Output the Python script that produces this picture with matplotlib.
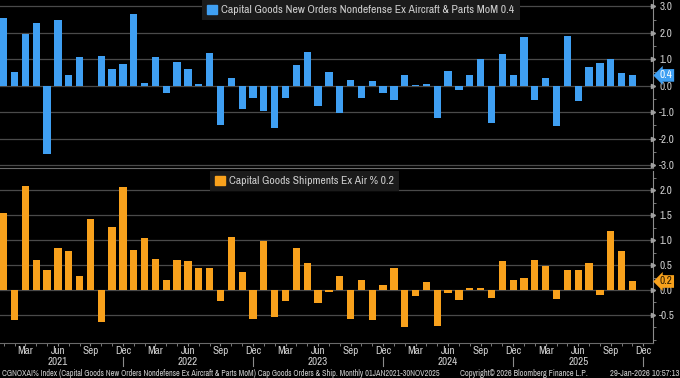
import numpy as np
import pandas as pd
import matplotlib
matplotlib.use('Agg')
import matplotlib.pyplot as plt
from matplotlib import font_manager
from matplotlib.patches import Patch
from matplotlib.lines import Line2D
from matplotlib.ticker import FormatStrFormatter
from matplotlib.transforms import blended_transform_factory as blend

# prefer a narrow face (Bloomberg terminal look), fall back to Liberation Sans
names = sorted({f.name for f in font_manager.fontManager.ttflist})
narrow = [n for n in names if 'Narrow' in n or 'Condensed' in n]
FONT = narrow[0] if narrow else 'Liberation Sans'
plt.rcParams['font.family'] = [FONT, 'DejaVu Sans']
plt.rcParams['axes.unicode_minus'] = False

# monthly data, Jan 2021 .. Nov 2025
orders = [2.55, 0.53, 1.95, 2.36, -2.59, 2.50, 0.40, 1.07, 0.00, 1.12, 0.63, 0.83,
          2.72, 0.09, 1.10, -0.26, 0.91, 0.63, 0.06, 1.25, -1.50, 0.28, -0.87, -0.48,
          -0.95, -1.60, -0.45, 0.77, 1.27, -0.78, 0.50, -1.02, 0.20, -0.48, 0.18, -0.29,
          -0.54, 0.42, 0.02, 0.05, -1.22, 0.55, -0.16, 0.40, 1.00, -1.42, 1.19, 0.39,
          1.84, -0.54, 0.28, -1.53, 1.89, -0.57, 0.72, 0.87, 1.01, 0.48, 0.39]
shipments = [1.54, -0.60, 2.09, 0.60, 0.40, 0.85, 0.78, 0.29, 1.43, -0.64, 1.26, 2.06,
             0.81, 1.04, 0.63, 0.19, 0.61, 0.58, 0.44, 0.44, -0.23, 1.07, 0.36, -0.58,
             0.99, -0.54, -0.23, 0.85, 0.54, -0.26, -0.04, 0.28, -0.58, 0.20, -0.60, 0.09,
             0.44, -0.74, -0.12, 0.15, -0.72, -0.07, -0.20, 0.03, 0.03, -0.17, 0.59, 0.19,
             0.25, 0.61, 0.48, -0.19, 0.41, 0.40, 0.55, -0.10, 1.19, 0.79, 0.17]
axis_months = pd.date_range('2021-01-01', '2025-12-01', freq='MS')
orders_label = 'Capital Goods New Orders Nondefense Ex Aircraft & Parts MoM 0.4'
ship_label = 'Capital Goods Shipments Ex Air % 0.2'
footer_left = ('CGNOXAI% Index (Capital Goods New Orders Nondefense Ex Aircraft & Parts MoM) '
               'Cap Goods Orders & Ship. Monthly 01JAN2021-30NOV2025')
footer_mid = 'Copyright\u00a9 2026 Bloomberg Finance L.P.'
footer_right = '29-Jan-2026 10:57:13'

BLUE = '#3f9ff2'
ORANGE = '#f8a11c'
GRID = '#4a4a4a'
TXT = '#cfcfcf'
AXC = '#8c8c8c'

x = np.arange(len(orders))
W, H = 680, 378
fig = plt.figure(figsize=(W / 100, H / 100), dpi=100, facecolor='black')
ax1 = fig.add_axes([0, 1 - 168 / H, 653 / W, 168 / H])
ax2 = fig.add_axes([0, 1 - 342.7 / H, 653 / W, (342.7 - 171) / H])


def style(ax, ylim, major, minor):
    ax.set_facecolor('black')
    ax.set_xlim(-0.34, 59.9)
    ax.set_ylim(*ylim)
    ax.yaxis.tick_right()
    ax.set_yticks(major)
    ax.set_yticks(minor, minor=True)
    ax.yaxis.set_major_formatter(FormatStrFormatter('%.1f'))
    for y in major:
        ax.axhline(y, color=GRID, lw=0.9, zorder=0)
    for s in ['top', 'left']:
        ax.spines[s].set_visible(False)
    ax.spines['right'].set_color(AXC)
    ax.spines['bottom'].set_color('#6a6a6a')
    ax.tick_params(axis='y', which='major', length=0, pad=4.5, labelsize=8, labelcolor=TXT)
    ax.tick_params(axis='y', which='minor', length=2, color=AXC)
    ax.plot(np.ones(len(major)), major, '>', transform=blend(ax.transAxes, ax.transData),
            ms=3, color='#a0a0a0', clip_on=False, zorder=5)


style(ax1, (-3.11, 3.24), np.arange(-3, 3.01, 1.0), np.arange(-3, 3.01, 0.5))
style(ax2, (-1.06, 2.39), np.arange(-0.5, 2.01, 0.5), np.arange(-1.0, 2.3, 0.25))

ax1.bar(x, orders, width=0.67, color=BLUE, zorder=2)
ax2.bar(x, shipments, width=0.67, color=ORANGE, zorder=2)

ax1.tick_params(axis='x', which='both', bottom=False, labelbottom=False)
quarter_idx = [i for i, m in enumerate(axis_months) if m.month in (3, 6, 9, 12)]
ax2.set_xticks(quarter_idx)
ax2.set_xticklabels([axis_months[i].strftime('%b') for i in quarter_idx])
ax2.set_xticks(np.arange(len(axis_months)), minor=True)
ax2.tick_params(axis='x', which='both', length=2, color=AXC, labelsize=8, labelcolor=TXT, pad=0.5)

# year labels and year separators
fy = blend(ax2.transData, fig.transFigure)
for i, m in enumerate(axis_months):
    if m.month == 6:
        fig.text(i, 1 - 362 / H, str(m.year), transform=fy, ha='center', va='center',
                 fontsize=8, color=TXT)
    if m.month == 12:
        fig.add_artist(Line2D([i, i], [1 - 357 / H, 1 - 366 / H], transform=fy,
                              color=AXC, lw=0.8))

# legends
legs = []
for ax, col, lab, left in [(ax1, BLUE, orders_label, 202), (ax2, ORANGE, ship_label, 210)]:
    leg = ax.legend(handles=[Patch(color=col)], labels=[lab], loc='upper left',
                    bbox_to_anchor=(left / 653, 1.0), frameon=True, facecolor='#1b1b1b',
                    edgecolor='none', framealpha=1, fancybox=False, handlelength=0.9,
                    handleheight=0.9, handletextpad=0.4, borderpad=0.45, fontsize=8,
                    labelcolor=TXT, borderaxespad=0)
    leg.set_zorder(10)
    legs.append(leg)

# last-value tags on the right axis
for ax, col, v, tc in [(ax1, BLUE, orders[-1], 'white'), (ax2, ORANGE, shipments[-1], '#2a1a00')]:
    ax.annotate(f'{v:.1f}', xy=(1, v), xycoords=blend(ax.transAxes, ax.transData),
                xytext=(5, 0), textcoords='offset points', ha='left', va='center',
                fontsize=8, color=tc, annotation_clip=False, zorder=20,
                bbox=dict(boxstyle='larrow,pad=0.12', fc=col, ec='none'))

f1 = fig.text(2 / W, 1 - 373 / H, footer_left, fontsize=5.3, color=TXT, va='center', ha='left')
f2 = fig.text(460 / W, 1 - 373 / H, footer_mid, fontsize=5.3, color=TXT, va='center', ha='left')
f3 = fig.text(679 / W, 1 - 373 / H, footer_right, fontsize=5.3, color=TXT, va='center', ha='right')

# shrink texts to the widths they take in the terminal screenshot
fig.canvas.draw()
r = fig.canvas.get_renderer()
for t, target in [(legs[0].get_texts()[0], 291), (legs[1].get_texts()[0], 163),
                  (f1, 435), (f2, 127), (f3, 70)]:
    w = t.get_window_extent(r).width
    t.set_fontsize(t.get_fontsize() * target / w)

fig.savefig('out.png', dpi=100, facecolor='black')
